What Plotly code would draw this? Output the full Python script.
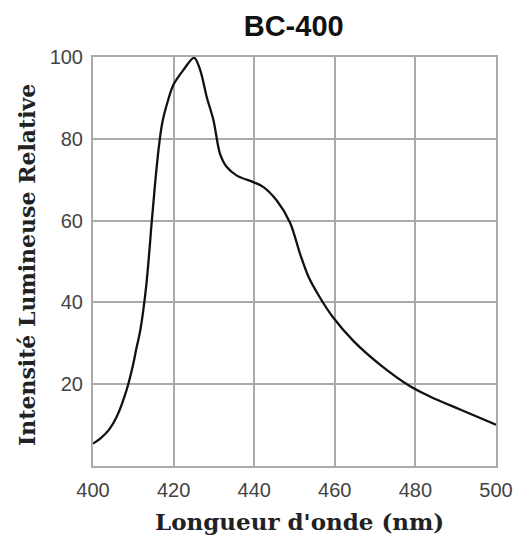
import plotly.graph_objects as go

wavelength = [400, 402, 404, 406, 408.4, 410, 410.8, 411.7, 413.2, 414.6, 415.4, 416.4, 417.2,
              418.5, 419.9, 422.4, 425.1, 426.6, 428.2, 429.9, 431.5, 433.2, 435.7, 439.8,
              442.3, 445.6, 448.9, 451.4, 453.5, 456.3, 459.6, 464.6, 471.2, 478.7, 483.6,
              491.1, 500]
intensity = [5.5, 6.9, 8.9, 12.3, 18.8, 25, 28.9, 33, 44, 60, 69, 78.5, 84,
             89, 93.1, 96.8, 99.8, 96.8, 90.3, 84.5, 76.4, 73.1, 71, 69.4,
             68.2, 64.9, 59.5, 51.8, 46.2, 41.2, 36.3, 30.6, 24.8, 19.5, 17.0,
             13.8, 10.1]
x_ticks = [400, 420, 440, 460, 480, 500]
y_ticks = [20, 40, 60, 80, 100]

fig = go.Figure()
fig.add_trace(go.Scatter(x=wavelength, y=intensity, mode="lines",
                         line=dict(color="#111111", width=2.3, shape="spline", smoothing=0.9),
                         showlegend=False, hoverinfo="skip"))

fig.add_shape(type="line", xref="paper", x0=0, x1=1, yref="y", y0=20, y1=20,
              line=dict(color="#333333", width=1.5), layer="below")

serif = "DejaVu Serif"
tickfont = dict(family="Liberation Sans", size=20, color="#444444")
fig.update_layout(
    width=524, height=538,
    margin=dict(l=93, r=28, t=57, b=72),
    paper_bgcolor="white", plot_bgcolor="white",
    title=dict(text="<b>BC-400</b>", x=0.5605, xanchor="center", y=0.952, yanchor="middle",
               font=dict(family="Liberation Sans", size=29, color="#111111")),
    xaxis=dict(range=[400, 500], tickvals=x_ticks, ticktext=[str(v) for v in x_ticks],
               showgrid=True, gridcolor="#aaaaaa", gridwidth=1.5,
               showline=True, linecolor="#aaaaaa", linewidth=2, mirror=True,
               ticks="", zeroline=False, ticklabelstandoff=5, tickfont=tickfont),
    yaxis=dict(range=[0, 100], tickvals=y_ticks, ticktext=[str(v) for v in y_ticks],
               showgrid=True, gridcolor="#aaaaaa", gridwidth=1.5,
               showline=True, linecolor="#aaaaaa", linewidth=2, mirror=True,
               ticks="", zeroline=False, ticklabelstandoff=4, tickfont=tickfont),
    annotations=[
        dict(text="<b>Longueur d'onde (nm)</b>", xref="paper", yref="paper",
             x=(299 - 93) / 403, y=(466 - 521) / 409, xanchor="center", yanchor="middle",
             showarrow=False, font=dict(family=serif, size=23, color="#222222")),
        dict(text="<b>Intensité Lumineuse Relative</b>", xref="paper", yref="paper",
             x=(27 - 93) / 403, y=(466 - 265) / 409, xanchor="center", yanchor="middle",
             textangle=-90, showarrow=False, font=dict(family=serif, size=22, color="#222222")),
    ],
)

fig.write_html("out.html")
